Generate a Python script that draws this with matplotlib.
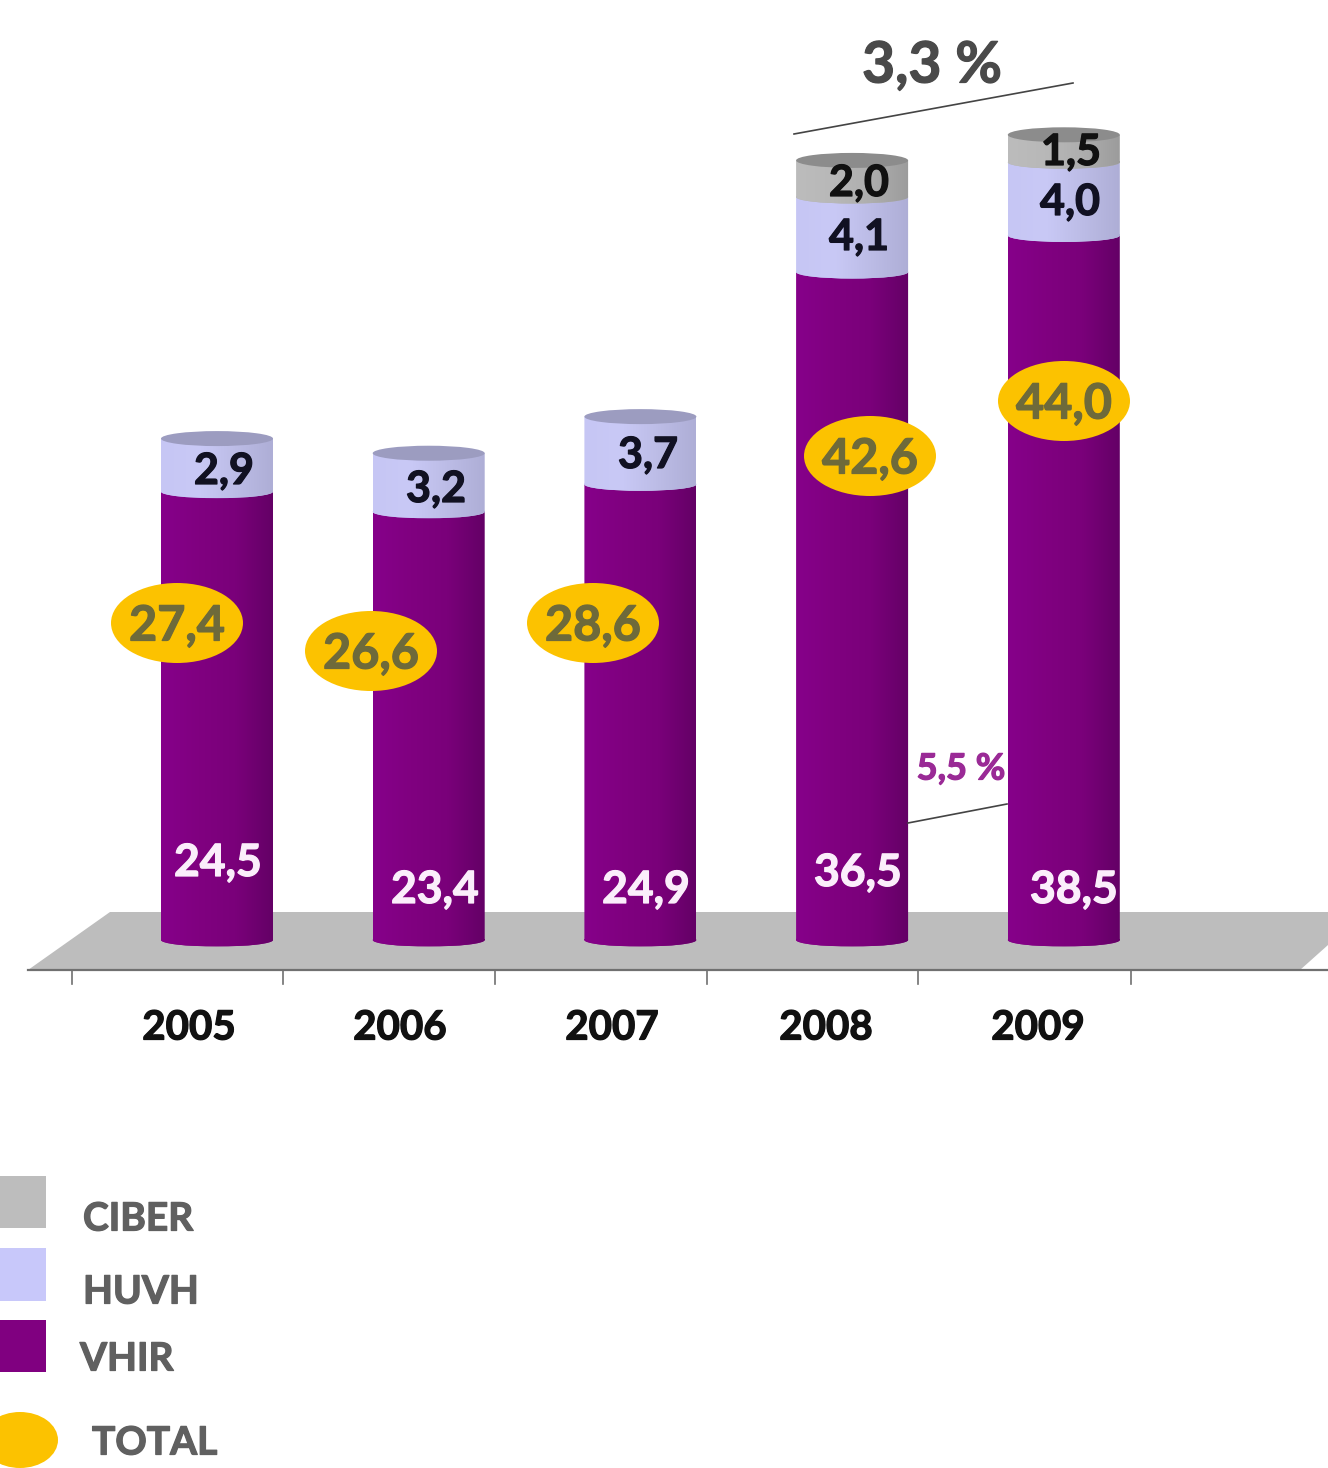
import matplotlib
matplotlib.use("Agg")
import matplotlib.pyplot as plt
import matplotlib.patheffects as pe
import numpy as np
from matplotlib.colors import LinearSegmentedColormap
from matplotlib.patches import Ellipse, Polygon, Rectangle
from matplotlib.path import Path
from matplotlib.transforms import Affine2D

plt.rcParams['font.family'] = ['Lato', 'DejaVu Sans']

# data (M euros)
years = ["2005", "2006", "2007", "2008", "2009"]
vhir = [24.5, 23.4, 24.9, 36.5, 38.5]
huvh = [2.9, 3.2, 3.7, 4.1, 4.0]
ciber = [0, 0, 0, 2.0, 1.5]
total = [27.4, 26.6, 28.6, 42.6, 44.0]
series_names = ["CIBER", "HUVH", "VHIR", "TOTAL"]
growth_labels = ["3,3 %", "5,5 %"]

W, H = 1328, 1468
PX_PER_UNIT = 18.3
BASE = 940      # pixel row of value 0
X0, STEP = 217, 211.7
BAR_W = 112 / STEP
CAP = 13 / PX_PER_UNIT
TOP_CAP = 15 / PX_PER_UNIT

fig = plt.figure(figsize=(W / 100, H / 100), dpi=100, facecolor='white')
ax = fig.add_axes([0, 0, 1, 1])
ax.axis('off')
ax.set_xlim(-X0 / STEP, (W - X0) / STEP)
ax.set_ylim(-(H - BASE) / PX_PER_UNIT, BASE / PX_PER_UNIT)

# everything that is not a data mark is placed in image pixels
px = Affine2D().scale(1, -1).translate(0, H)


def fmt(v):
    return f"{v:.1f}".replace(".", ",")


def ptext(x, y, s, heavy=0.9, **kw):
    kw.setdefault('ha', 'center')
    kw.setdefault('weight', 'bold')
    t = ax.text(x, y + 3, s, transform=px, va='center', zorder=10, **kw)
    t.set_path_effects([pe.withStroke(linewidth=heavy, foreground=kw['color'])])


# floor
ax.add_patch(Polygon([(28, 970), (110, 912), (W, 912), (W, 945), (1300, 970)],
                     closed=True, fc='#bdbdbd', ec='none', transform=px, zorder=1))
ax.plot([28, W], [970, 970], color='#707070', lw=1.6, transform=px, zorder=2)
for tx in [72, 283, 495, 707, 918, 1131]:
    ax.plot([tx, tx], [970, 984], color='#707070', lw=1.2, transform=px, zorder=2)

purple = LinearSegmentedColormap.from_list('p', ['#86008a', '#800080', '#7a007a', '#640066'])
lilac = LinearSegmentedColormap.from_list('l', ['#c6c6f4', '#c9c9f6', '#bcbce6', '#aeaed6'])
grey = LinearSegmentedColormap.from_list('g', ['#bcbcbc', '#b8b8b8', '#aeaeae', '#9c9c9c'])
ramp = np.linspace(0, 1, 128).reshape(1, -1)


def segment(x, bottom, height, cmap, z):
    # cylinder slice: a bar with a rounded lower edge and a shaded side
    bar = ax.bar(x, height, BAR_W, bottom=bottom, color='none', zorder=z)[0]
    low = Ellipse((x, bottom), BAR_W, CAP, fc=cmap(0.5), ec='none', zorder=z)
    ax.add_patch(low)
    img = ax.imshow(ramp, cmap=cmap, aspect='auto', zorder=z, vmin=0, vmax=1,
                    extent=(x - BAR_W / 2, x + BAR_W / 2, bottom - CAP / 2, bottom + height))
    body = bar.get_path().transformed(bar.get_patch_transform())
    low_path = low.get_path().transformed(low.get_patch_transform())
    img.set_clip_path(Path.make_compound_path(body, low_path), ax.transData)
    return bar


xlim, ylim = ax.get_xlim(), ax.get_ylim()
for i in range(len(years)):
    segment(i, 0, vhir[i], purple, 3)
    segment(i, vhir[i], huvh[i], lilac, 4)
    top = vhir[i] + huvh[i]
    cap_color = '#9c9cc0'
    if ciber[i] > 0:
        segment(i, top, ciber[i], grey, 5)
        top += ciber[i]
        cap_color = '#8c8c8c'
    ax.add_patch(Ellipse((i, top), BAR_W, TOP_CAP, fc=cap_color, ec='none', zorder=6))
ax.set_xlim(xlim)
ax.set_ylim(ylim)

# value labels
vhir_pos = [(218, 860), (435, 887), (646, 887), (858, 870), (1074, 887)]
huvh_pos = [(224, 468), (436, 486), (648, 452), (859, 234), (1070, 199)]
ciber_pos = {3: (859, 180), 4: (1071, 149)}
total_pos = [(177, 623), (371, 651), (593, 623), (870, 456), (1064, 401)]
year_pos = [189, 400, 612, 826, 1038]

for i in range(len(years)):
    ptext(*vhir_pos[i], fmt(vhir[i]), color='#fbeefb', fontsize=32)
    ptext(*huvh_pos[i], fmt(huvh[i]), color='#111122', fontsize=31)
    if ciber[i] > 0:
        ptext(*ciber_pos[i], fmt(ciber[i]), color='#111111', fontsize=31)
    ax.add_patch(Ellipse(total_pos[i], 132, 80, fc='#fcc200', ec='none', transform=px, zorder=9))
    ptext(*total_pos[i], fmt(total[i]), color='#6e6a3a', fontsize=35)
    ptext(year_pos[i], 1025, years[i], color='#111111', fontsize=29)

# growth annotations
ax.plot([794, 1073], [134, 83], color='#444444', lw=1.2, transform=px, zorder=7)
ptext(932, 63, growth_labels[0], color='#4a4a4a', fontsize=41)
ax.plot([908, 1007], [823, 804], color='#444444', lw=1.2, transform=px, zorder=7)
ptext(961, 766, growth_labels[1], color='#9a2a96', fontsize=26)

# legend
swatches = [('#bdbdbd', 1176, 1228), ('#c8c8fa', 1248, 1301), ('#800080', 1320, 1372)]
legend_pos = [(83, 1216), (83, 1289), (80, 1356), (92, 1440)]
for c, y0, y1 in swatches:
    ax.add_patch(Rectangle((0, y0), 46, y1 - y0, fc=c, ec='none', transform=px, zorder=3))
ax.add_patch(Ellipse((20, 1440), 76, 56, fc='#fcc200', ec='none', transform=px, zorder=3))
for name, (tx, ty) in zip(series_names, legend_pos):
    ptext(tx, ty, name, color='#606060', fontsize=28, ha='left')

fig.savefig('out.png', dpi=100, facecolor='white')
